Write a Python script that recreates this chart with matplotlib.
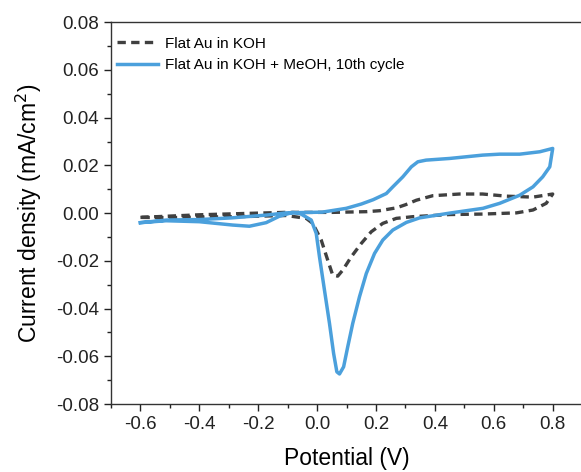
import matplotlib
matplotlib.use('Agg')
import matplotlib.pyplot as plt
from matplotlib.ticker import MultipleLocator

plt.rcParams['font.family'] = ['Liberation Sans', 'DejaVu Sans']

# Flat Au in KOH (one closed CV loop)
koh_v = [-0.60, -0.51, -0.40, -0.23, -0.11, 0.05, 0.167, 0.212, 0.269, 0.30, 0.337, 0.393, 0.484,
         0.562, 0.643, 0.733, 0.80,
         0.778, 0.733, 0.677, 0.562, 0.45, 0.325, 0.269, 0.223, 0.184, 0.150, 0.116, 0.087, 0.070,
         0.053, 0.036, 0.014, -0.015, -0.037, -0.105, -0.23, -0.40, -0.51, -0.60]
koh_j = [-0.0018, -0.0013, -0.0007, -0.0001, 0.0003, 0.0003, 0.0006, 0.0010, 0.0022, 0.0035, 0.0054,
         0.0073, 0.0080, 0.0080, 0.0071, 0.0067, 0.0080,
         0.0041, 0.0013, 0.0001, -0.0004, -0.0006, -0.0015, -0.0022, -0.0043, -0.0078, -0.0127,
         -0.0183, -0.0239, -0.0264, -0.0260, -0.0197, -0.0113, -0.0043, -0.0022, -0.0010, -0.0014,
         -0.0017, -0.0019, -0.0018]

# Flat Au in KOH + MeOH, 10th cycle
meoh_v = [-0.60, -0.51, -0.40, -0.29, -0.17, -0.105, 0.017, 0.053, 0.099, 0.15, 0.19, 0.235, 0.257,
          0.291, 0.320, 0.342, 0.370, 0.45, 0.562, 0.62, 0.688, 0.756, 0.80,
          0.79, 0.766, 0.733, 0.688, 0.62, 0.563, 0.45, 0.348, 0.303, 0.257, 0.223, 0.195, 0.167,
          0.144, 0.121, 0.104, 0.090, 0.076, 0.067, 0.056, 0.042, 0.025, 0.008, -0.003, -0.020,
          -0.060, -0.083, -0.128, -0.173, -0.23, -0.287, -0.40, -0.513, -0.60]
meoh_j = [-0.0040, -0.0029, -0.0027, -0.0020, -0.0008, 0.0001, 0.0004, 0.0011, 0.0020, 0.0038, 0.0056,
          0.0082, 0.0110, 0.0152, 0.0194, 0.0215, 0.0222, 0.0229, 0.0243, 0.0247, 0.0247, 0.0257,
          0.0271,
          0.0194, 0.0152, 0.0110, 0.0075, 0.0041, 0.0020, 0.0000, -0.0020, -0.0039, -0.0071, -0.0113,
          -0.0169, -0.0253, -0.0350, -0.0462, -0.0560, -0.0644, -0.0674, -0.0665, -0.0588, -0.0462,
          -0.0323, -0.0183, -0.0085, -0.0029, 0.0000, 0.0003, -0.0013, -0.0040, -0.0055, -0.0050,
          -0.0036, -0.0032, -0.0040]

fig = plt.figure(figsize=(5.81, 4.72), dpi=100)
ax = fig.add_axes([0.191, 0.144, 1.002 - 0.191, 0.953 - 0.144])

ax.plot(koh_v, koh_j, color='#404040', linewidth=2.4, dashes=(2.5, 1.6),
        solid_joinstyle='round', dash_joinstyle='round', label='Flat Au in KOH')
ax.plot(meoh_v, meoh_j, color='#4ba0dc', linewidth=2.5, solid_joinstyle='round',
        label='Flat Au in KOH + MeOH, 10th cycle')

ax.set_xlim(-0.7, 0.9)
ax.set_ylim(-0.08, 0.08)
ax.xaxis.set_minor_locator(MultipleLocator(0.1))
ax.yaxis.set_major_locator(MultipleLocator(0.02))
ax.yaxis.set_minor_locator(MultipleLocator(0.01))
ax.set_xticks([-0.6, -0.4, -0.2, 0.0, 0.2, 0.4, 0.6, 0.8])
ax.set_yticklabels([f'{t:.2f}' for t in ax.get_yticks()])
ax.set_xticklabels([f'{t:.1f}' for t in ax.get_xticks()])
ax.tick_params(which='major', direction='out', length=5, width=1, labelsize=13.5, colors='#222222')
ax.tick_params(which='minor', direction='out', length=3, width=1, colors='#222222')
for s in ax.spines.values():
    s.set_linewidth(1.0)
    s.set_color('#333333')

ax.set_xlabel('Potential (V)', fontsize=16.5, labelpad=10)
ax.set_ylabel('Current density (mA/cm$^2$)', fontsize=16.5, labelpad=9)

ax.legend(loc='upper left', bbox_to_anchor=(0.012, 0.962), frameon=False, fontsize=11,
          handlelength=2.7, handletextpad=0.45, borderpad=0, borderaxespad=0, labelspacing=0.5)

plt.savefig('out.png', dpi=100)
plt.close()
